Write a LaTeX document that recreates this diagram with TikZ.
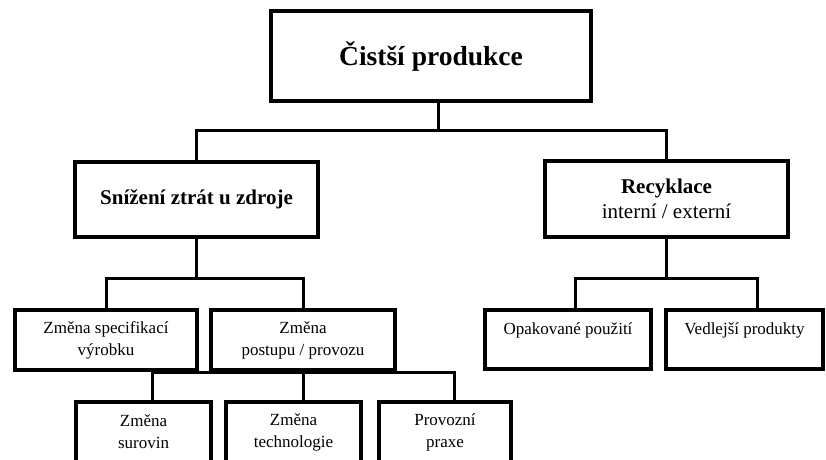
\documentclass[tikz,border=0pt]{standalone}
\usepackage{fontspec}
\setmainfont{Liberation Serif}
\usetikzlibrary{positioning}

\tikzset{
  box/.style={draw, line width=4pt, align=center, inner sep=0pt},
  link/.style={line width=3pt},
  big/.style={font=\fontsize{27.5}{32}\selectfont\bfseries},
  mid/.style={font=\fontsize{21}{25}\selectfont},
  small/.style={font=\fontsize{17}{22}\selectfont}
}

\begin{document}
\begin{tikzpicture}[x=1pt,y=-1pt]
      \useasboundingbox (0,0) rectangle (826,459);
      \clip (0,0) rectangle (826,459);
      % levels of the tree
      \node[box,big,minimum width=320pt,minimum height=90pt] (cp) at (431,56) {Čistší produkce};
      \node[box,mid,minimum width=243pt,minimum height=75pt] (snizeni) at (196.5,199.5) {\textbf{Snížení ztrát u zdroje}};
      \node[box,mid,minimum width=243pt,minimum height=76pt] (recyk) at (666.5,199) {\textbf{Recyklace}\\interní / externí};
      \node[box,small,minimum width=182pt,minimum height=60pt] (spec) at (106,340) {Změna specifikací\\výrobku};
      \node[box,small,minimum width=184pt,minimum height=60pt] (postup) at (303,340) {Změna\\postupu / provozu};
      \node[box,small,minimum width=166pt,minimum height=59pt] (opak) at (568,339.5) {Opakované použití\\\mbox{}};
      \node[box,small,minimum width=157pt,minimum height=59pt] (vedl) at (744.5,339.5) {Vedlejší produkty\\\mbox{}};
      \node[box,small,minimum width=135pt,minimum height=60pt] (surov) at (143.5,432) {Změna\\surovin};
      \node[box,small,minimum width=135pt,minimum height=60pt] (techno) at (293.5,432) {Změna\\technologie};
      \node[box,small,minimum width=132pt,minimum height=60pt] (praxe) at (445,432) {Provozní\\praxe};
      % bus lines
      \coordinate (busA) at (0,130);
      \coordinate (busB) at (0,278);
      % connectors
      \draw[link] ([xshift=7pt]cp.south) -- ([xshift=7pt]cp.south |- busA);
      \draw[link] (snizeni.north) |- (recyk.north |- busA) -- (recyk.north);
      \draw[link] (snizeni.south) -- (snizeni.south |- busB);
      \draw[link] (spec.north) |- (postup.north |- busB) -- (postup.north);
      \draw[link] (recyk.south) -- (recyk.south |- busB);
      \draw[link] ([xshift=7pt]opak.north) |- (recyk.south |- busB) -| ([xshift=13pt]vedl.north);
      \draw[link] ([xshift=8.5pt]surov.north) |- (postup.south) -| ([xshift=9pt]praxe.north);
      \draw[link] (postup.south) -- ([xshift=9.5pt]techno.north);
\end{tikzpicture}
\end{document}
